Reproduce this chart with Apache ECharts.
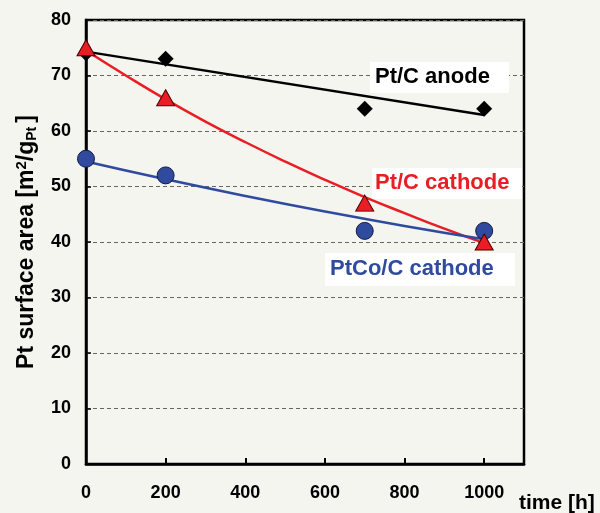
<!DOCTYPE html>
<html><head><meta charset="utf-8">
<script src="https://cdn.jsdelivr.net/npm/echarts@6/dist/echarts.min.js"></script>
<style>html,body{margin:0;padding:0;background:#f3f5ee;}#c{width:600px;height:513px;}</style>
</head><body><div id="c"></div>
<script>
// measured points
const anodeX = [0, 200, 700, 1000];
const anodeY = [74, 73, 64, 64];
const cathodeX = [0, 200, 700, 1000];
const cathodeY = [75, 66, 47, 40];
const ptcoX = [0, 200, 700, 1000];
const ptcoY = [55, 52, 42, 42];
// trend lines
const anodeTrendX = [0, 1000];
const anodeTrendY = [74.3, 62.9];
const cathodeTrendX = [0, 100, 200, 300, 400, 500, 600, 700, 800, 900, 1000];
const cathodeTrendY = [74.5, 70.0, 65.7, 61.7, 58.0, 54.5, 51.2, 48.1, 45.2, 42.4, 39.8];
const ptcoTrendX = [0, 200, 400, 600, 800, 1000];
const ptcoTrendY = [54.5, 51.3, 48.3, 45.5, 42.9, 40.5];
const xTicks = [0, 200, 400, 600, 800, 1000];
const seriesNames = ['Pt/C anode', 'Pt/C cathode', 'PtCo/C cathode'];

const zip = (a, b) => a.map((v, i) => [v, b[i]]);
const FONT = 'Liberation Sans, Arial, sans-serif';
const RED = '#ea1c24', BLUE = '#2f4a9f', BLACK = '#000';

const chart = echarts.init(document.getElementById('c'));
chart.setOption({
  backgroundColor: '#f3f5ee',
  animation: false,
  grid: { left: 86, right: 76, top: 20, bottom: 49, show: true, borderColor: '#000', borderWidth: 2.5, backgroundColor: '#f3f5ee' },
  xAxis: {
    type: 'value', min: 0, max: 1100, interval: 200,
    axisLine: { lineStyle: { color: '#000', width: 2.5 } },
    axisTick: { inside: true, length: 6, lineStyle: { color: '#000', width: 2 } },
    axisLabel: { color: '#000', fontFamily: FONT, fontWeight: 'bold', fontSize: 18, margin: 20,
      formatter: v => xTicks.includes(v) ? String(v) : '' },
    splitLine: { show: false }
  },
  yAxis: {
    type: 'value', min: 0, max: 80, interval: 10,
    name: 'Pt surface area [m{sup|2}/g{sub|Pt}]',
    nameLocation: 'middle', nameRotate: 90, nameGap: 47,
    nameTextStyle: { color: '#000', fontFamily: FONT, fontWeight: 'bold', fontSize: 23,
      rich: { sup: { fontSize: 15, fontWeight: 'bold', fontFamily: FONT, verticalAlign: 'top', padding: [0,0,10,0] },
              sub: { fontSize: 14, fontWeight: 'bold', fontFamily: FONT, verticalAlign: 'bottom', padding: [8,4,0,0] } } },
    axisLine: { lineStyle: { color: '#000', width: 2.5 } },
    axisTick: { inside: true, length: 5, lineStyle: { color: '#000', width: 1.5 } },
    axisLabel: { color: '#000', fontFamily: FONT, fontWeight: 'bold', fontSize: 18, margin: 15 },
    splitLine: { show: true, lineStyle: { color: '#666', type: [4, 3], width: 1 } }
  },
  series: [
    { type: 'line', data: zip(anodeTrendX, anodeTrendY), showSymbol: false, lineStyle: { color: BLACK, width: 2.5 }, z: 2 },
    { type: 'line', data: zip(cathodeTrendX, cathodeTrendY), smooth: true, showSymbol: false, lineStyle: { color: RED, width: 2.5 }, z: 2 },
    { type: 'line', data: zip(ptcoTrendX, ptcoTrendY), smooth: true, showSymbol: false, lineStyle: { color: BLUE, width: 2.5 }, z: 2 },
    { name: seriesNames[0], type: 'scatter', data: zip(anodeX, anodeY), symbol: 'diamond', symbolSize: [16, 16], itemStyle: { color: BLACK, opacity: 1 }, z: 3 },
    { name: seriesNames[1], type: 'scatter', data: zip(cathodeX, cathodeY), symbol: 'triangle', symbolSize: [18, 16], itemStyle: { color: RED, borderColor: '#4a0000', borderWidth: 1, opacity: 1 }, z: 4 },
    { name: seriesNames[2], type: 'scatter', data: zip(ptcoX, ptcoY), symbol: 'circle', symbolSize: 17, itemStyle: { color: BLUE, borderColor: '#141a40', borderWidth: 1, opacity: 1 }, z: 3 }
  ],
  graphic: [
    { type: 'rect', left: 370, top: 62, shape: { width: 139, height: 31 }, style: { fill: '#fff' }, z: 10 },
    { type: 'text', left: 375, top: 66, style: { text: seriesNames[0], fill: BLACK, font: 'bold 22px ' + FONT }, z: 11 },
    { type: 'rect', left: 372, top: 168, shape: { width: 150, height: 31 }, style: { fill: '#fff' }, z: 10 },
    { type: 'text', left: 375, top: 172, style: { text: seriesNames[1], fill: RED, font: 'bold 22px ' + FONT }, z: 11 },
    { type: 'rect', left: 325, top: 253, shape: { width: 190, height: 33 }, style: { fill: '#fff' }, z: 10 },
    { type: 'text', left: 330, top: 258, style: { text: seriesNames[2], fill: BLUE, font: 'bold 22px ' + FONT }, z: 11 },
    { type: 'text', left: 519, top: 493, style: { text: 'time [h]', fill: '#000', font: 'bold 21px ' + FONT }, z: 11 }
  ]
});
</script></body></html>
